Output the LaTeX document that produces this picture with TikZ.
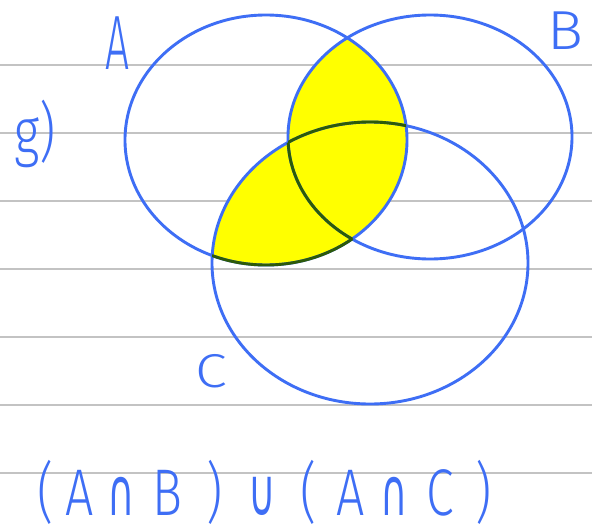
\documentclass[tikz,border=0pt]{standalone}
\usepackage{fontspec}
\newfontfamily\hand{Fira Sans Light}
\newfontfamily\symf{DejaVu Sans}
\definecolor{pen}{RGB}{62,110,245}
\definecolor{hl}{RGB}{255,255,0}
\definecolor{ink}{RGB}{45,90,10}
\definecolor{rulec}{RGB}{195,195,195}
\newcommand\gbox[2]{\makebox[#1pt][c]{#2}}
\newcommand\symglyph[1]{\scalebox{0.75}[1]{\symf #1}}
\begin{document}
\begin{tikzpicture}[x=1pt,y=-1pt,
  ruled/.style={draw=rulec,line width=1.3pt},
  setline/.style={draw=pen,line width=2.9pt},
  inkline/.style={draw=ink,line width=2.9pt},
  label/.style={text=pen,inner sep=0pt,font=\hand\fontsize{50}{50}\selectfont}]
\useasboundingbox[fill=white] (0,0) rectangle (592,530);
% ruled paper
\foreach \yy in {65,133,201,269,337,405,473}
  \draw[ruled] (0,\yy) -- (592,\yy);
% shaded region: A n (B u C)
\begin{scope}
  \clip (266,140) ellipse (141 and 125);
  \fill[hl] (430,137) ellipse (142 and 122);
  \fill[hl] (370,263) ellipse (158 and 141);
\end{scope}
% circles
\draw[setline] (266,140) ellipse (141 and 125);
\draw[setline] (430,137) ellipse (142 and 122);
\draw[setline] (370,263) ellipse (158 and 141);
% lines under the highlighter
\begin{scope}
  \clip (266,140) ellipse (141 and 125);
  \clip (430,137) ellipse (142 and 122);
  \draw[inkline] (370,263) ellipse (158 and 141);
\end{scope}
\begin{scope}
  \clip (266,140) ellipse (141 and 125);
  \clip (370,263) ellipse (158 and 141);
  \draw[inkline] (430,137) ellipse (142 and 122);
\end{scope}
\begin{scope}[even odd rule]
  \clip (370,263) ellipse (158 and 141);
  \clip (-10,-10) rectangle (602,540) (430,137) ellipse (142 and 122);
  \draw[inkline] (266,140) ellipse (141 and 125);
\end{scope}
% labels
\node[label] (la) at (118,43) {\scalebox{0.85}[1.54]{A}};
\node[label] (lb) at (565,31) {\scalebox{1.2}[1.1]{B}};
\node[label] (lc) at (211,371) {\scalebox{1.15}[0.95]{C}};
\node[label] (lg) at (35,134) {\scalebox{1}[1.3]{g)}};
\node[label,anchor=base west] (expr) at (29.5,515) {\scalebox{1}[1.32]{%
  \gbox{31}{(}\gbox{38}{A}\gbox{45.5}{\symglyph{∩}}\gbox{46.5}{B}\gbox{48}{)}%
  \gbox{48}{\symglyph{∪}}\gbox{43.5}{(}\gbox{40.5}{A}\gbox{47}{\symglyph{∩}}\gbox{46}{C}\gbox{39}{)}}};
\end{tikzpicture}
\end{document}
